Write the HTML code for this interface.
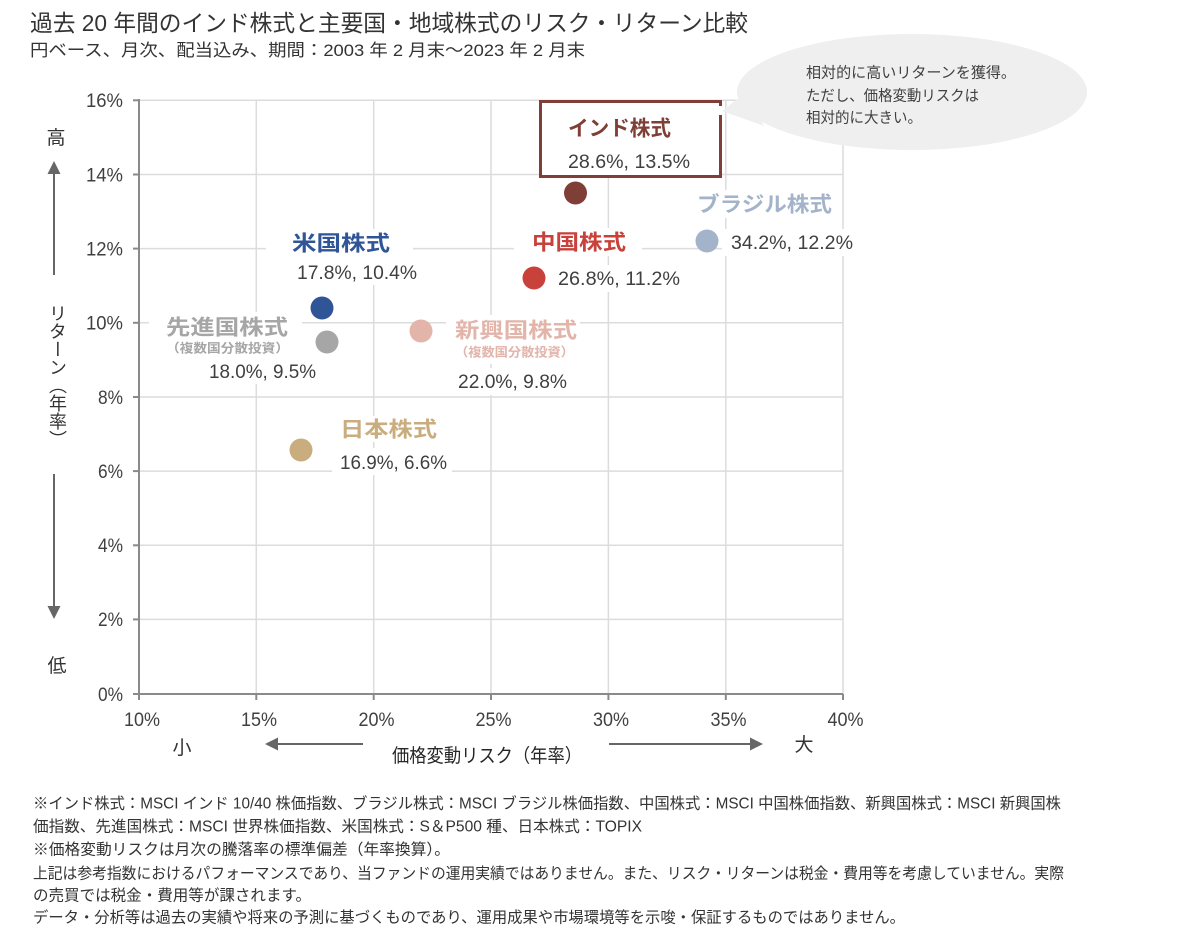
<!DOCTYPE html>
<html><head><meta charset="utf-8">
<style>
html,body{margin:0;padding:0;background:#fff;}
#wrap{position:relative;width:1200px;height:934px;overflow:hidden;background:#fff;}
svg{position:absolute;left:0;top:0;}
text{font-family:"Liberation Sans","Noto Sans CJK JP",sans-serif;}
.vlab{position:absolute;left:47px;top:304px;width:20px;font-family:"Liberation Sans","Noto Sans CJK JP",sans-serif;font-size:18px;line-height:20px;color:#333;writing-mode:vertical-rl;white-space:nowrap;}
</style></head>
<body><div id="wrap">
<svg width="1200" height="934" viewBox="0 0 1200 934" xmlns="http://www.w3.org/2000/svg">
<rect width="1200" height="934" fill="#fff"/>
<!-- title -->
<text x="30" y="31" font-size="23" fill="#333" textLength="718" lengthAdjust="spacingAndGlyphs">過去 20 年間のインド株式と主要国・地域株式のリスク・リターン比較</text>
<text x="30" y="56" font-size="17" fill="#333" textLength="555" lengthAdjust="spacingAndGlyphs">円ベース、月次、配当込み、期間：2003 年 2 月末～2023 年 2 月末</text>

<!-- gridlines -->
<g stroke="#dcdcdc" stroke-width="1.5">
<line x1="139" y1="100.3" x2="843" y2="100.3"/>
<line x1="139" y1="174.5" x2="843" y2="174.5"/>
<line x1="139" y1="248.6" x2="843" y2="248.6"/>
<line x1="139" y1="322.8" x2="843" y2="322.8"/>
<line x1="139" y1="397" x2="843" y2="397"/>
<line x1="139" y1="471.1" x2="843" y2="471.1"/>
<line x1="139" y1="545.3" x2="843" y2="545.3"/>
<line x1="139" y1="619.4" x2="843" y2="619.4"/>
<line x1="256.3" y1="100" x2="256.3" y2="694"/>
<line x1="373.7" y1="100" x2="373.7" y2="694"/>
<line x1="491" y1="100" x2="491" y2="694"/>
<line x1="608.4" y1="100" x2="608.4" y2="694"/>
<line x1="725.8" y1="100" x2="725.8" y2="694"/>
<line x1="843" y1="100" x2="843" y2="694"/>
</g>

<!-- axes -->
<g stroke="#8a8a8a" stroke-width="2">
<line x1="139" y1="99" x2="139" y2="694"/>
<line x1="138" y1="694" x2="843" y2="694"/>
<line x1="133" y1="100.3" x2="139" y2="100.3"/>
<line x1="133" y1="174.5" x2="139" y2="174.5"/>
<line x1="133" y1="248.6" x2="139" y2="248.6"/>
<line x1="133" y1="322.8" x2="139" y2="322.8"/>
<line x1="133" y1="397" x2="139" y2="397"/>
<line x1="133" y1="471.1" x2="139" y2="471.1"/>
<line x1="133" y1="545.3" x2="139" y2="545.3"/>
<line x1="133" y1="619.4" x2="139" y2="619.4"/>
<line x1="133" y1="694" x2="139" y2="694"/>
<line x1="139" y1="694" x2="139" y2="700"/>
<line x1="256.3" y1="694" x2="256.3" y2="700"/>
<line x1="373.7" y1="694" x2="373.7" y2="700"/>
<line x1="491" y1="694" x2="491" y2="700"/>
<line x1="608.4" y1="694" x2="608.4" y2="700"/>
<line x1="725.8" y1="694" x2="725.8" y2="700"/>
<line x1="843" y1="694" x2="843" y2="700"/>
</g>

<!-- y tick labels -->
<g font-size="19" fill="#404040" text-anchor="end">
<text x="123" y="107" textLength="37" lengthAdjust="spacingAndGlyphs">16%</text>
<text x="123" y="181.3" textLength="37" lengthAdjust="spacingAndGlyphs">14%</text>
<text x="123" y="255.4" textLength="37" lengthAdjust="spacingAndGlyphs">12%</text>
<text x="123" y="329.6" textLength="37" lengthAdjust="spacingAndGlyphs">10%</text>
<text x="123" y="403.8" textLength="25" lengthAdjust="spacingAndGlyphs">8%</text>
<text x="123" y="477.9" textLength="25" lengthAdjust="spacingAndGlyphs">6%</text>
<text x="123" y="552.1" textLength="25" lengthAdjust="spacingAndGlyphs">4%</text>
<text x="123" y="626.2" textLength="25" lengthAdjust="spacingAndGlyphs">2%</text>
<text x="123" y="700.8" textLength="25" lengthAdjust="spacingAndGlyphs">0%</text>
</g>
<!-- x tick labels -->
<g font-size="19" fill="#404040" text-anchor="middle">
<text x="142" y="726" textLength="36" lengthAdjust="spacingAndGlyphs">10%</text>
<text x="259" y="726" textLength="36" lengthAdjust="spacingAndGlyphs">15%</text>
<text x="376.5" y="726" textLength="36" lengthAdjust="spacingAndGlyphs">20%</text>
<text x="493.5" y="726" textLength="36" lengthAdjust="spacingAndGlyphs">25%</text>
<text x="611" y="726" textLength="36" lengthAdjust="spacingAndGlyphs">30%</text>
<text x="728.5" y="726" textLength="36" lengthAdjust="spacingAndGlyphs">35%</text>
<text x="845.5" y="726" textLength="36" lengthAdjust="spacingAndGlyphs">40%</text>
</g>

<!-- y axis side labels/arrows -->
<text x="56" y="144" font-size="19" fill="#333" text-anchor="middle">高</text>
<text x="57" y="672" font-size="19" fill="#333" text-anchor="middle">低</text>
<g stroke="#666" stroke-width="2">
<line x1="54" y1="275" x2="54" y2="170"/>
<line x1="54" y1="474" x2="54" y2="610"/>
<line x1="363" y1="744" x2="276" y2="744"/>
<line x1="609" y1="744" x2="752" y2="744"/>
</g>
<g fill="#666">
<polygon points="54,161 47.5,174 60.5,174"/>
<polygon points="54,619 47.5,606 60.5,606"/>
<polygon points="265,744 278,737.5 278,750.5"/>
<polygon points="763,744 750,737.5 750,750.5"/>
</g>
<text x="182" y="754" font-size="19" fill="#333" text-anchor="middle">小</text>
<text x="804" y="751" font-size="19" fill="#333" text-anchor="middle">大</text>
<text x="392" y="762" font-size="19" fill="#262626" textLength="190" lengthAdjust="spacingAndGlyphs">価格変動リスク（年率）</text>

<!-- white label backgrounds -->
<g fill="#fff">
<rect x="690" y="190" width="150" height="28"/>
<rect x="722" y="229" width="136" height="27"/>
<rect x="514" y="228" width="128" height="28"/>
<rect x="552" y="265" width="134" height="27"/>
<rect x="266" y="229" width="147" height="56"/>
<rect x="149" y="312" width="153" height="48"/>
<rect x="200" y="358" width="120" height="26"/>
<rect x="446" y="315" width="134" height="49"/>
<rect x="452" y="368" width="120" height="27"/>
<rect x="332" y="416" width="110" height="26"/>
<rect x="332" y="448" width="120" height="27"/>
</g>

<!-- India box -->
<rect x="540.5" y="101.5" width="180" height="75" fill="#fff" stroke="#7f3f36" stroke-width="3"/>
<rect x="717" y="106" width="8" height="9" fill="#fff"/>

<!-- callout bubble -->
<g fill="#efefef">
<ellipse cx="912" cy="92" rx="175" ry="58"/>
<polygon points="746,92 722,111 764,126"/>
</g>
<g font-size="15" fill="#404040">
<text x="806" y="77.5" textLength="210" lengthAdjust="spacingAndGlyphs">相対的に高いリターンを獲得。</text>
<text x="806" y="100.5" textLength="173" lengthAdjust="spacingAndGlyphs">ただし、価格変動リスクは</text>
<text x="806" y="122.5" textLength="116" lengthAdjust="spacingAndGlyphs">相対的に大きい。</text>
</g>

<!-- dots -->
<circle cx="575.5" cy="193" r="11.5" fill="#7f3f36"/>
<circle cx="707" cy="241" r="11.5" fill="#a3b4ca"/>
<circle cx="534" cy="278" r="11.5" fill="#c8413b"/>
<circle cx="322" cy="308" r="11.5" fill="#2f5597"/>
<circle cx="327" cy="342" r="11.5" fill="#a6a6a6"/>
<circle cx="421" cy="331" r="11.5" fill="#e2b4aa"/>
<circle cx="301" cy="450" r="11.5" fill="#c9ad7e"/>

<!-- data labels -->
<g font-size="21" font-weight="bold">
<text x="568" y="135.6" fill="#7f3f36" textLength="103" lengthAdjust="spacingAndGlyphs">インド株式</text>
<text x="697" y="211.6" fill="#a3b4ca" textLength="135" lengthAdjust="spacingAndGlyphs">ブラジル株式</text>
<text x="532" y="249.6" fill="#c8413b" textLength="94" lengthAdjust="spacingAndGlyphs">中国株式</text>
<text x="292" y="250.6" fill="#2f5597" textLength="98" lengthAdjust="spacingAndGlyphs">米国株式</text>
<text x="166" y="334.6" fill="#a6a6a6" textLength="122" lengthAdjust="spacingAndGlyphs">先進国株式</text>
<text x="455" y="337.6" fill="#e2b4aa" textLength="122" lengthAdjust="spacingAndGlyphs">新興国株式</text>
<text x="340" y="436.6" fill="#c9ad7e" textLength="97" lengthAdjust="spacingAndGlyphs">日本株式</text>
</g>
<g font-size="12.5" font-weight="bold">
<text x="166" y="352.5" fill="#a6a6a6" textLength="123" lengthAdjust="spacingAndGlyphs">（複数国分散投資）</text>
<text x="455" y="356.5" fill="#e2b4aa" textLength="119" lengthAdjust="spacingAndGlyphs">（複数国分散投資）</text>
</g>
<g font-size="19.5" fill="#404040">
<text x="568" y="168" textLength="122" lengthAdjust="spacingAndGlyphs">28.6%, 13.5%</text>
<text x="731" y="249" textLength="122" lengthAdjust="spacingAndGlyphs">34.2%, 12.2%</text>
<text x="558" y="285" textLength="122" lengthAdjust="spacingAndGlyphs">26.8%, 11.2%</text>
<text x="297" y="279" textLength="120" lengthAdjust="spacingAndGlyphs">17.8%, 10.4%</text>
<text x="209" y="378" textLength="107" lengthAdjust="spacingAndGlyphs">18.0%, 9.5%</text>
<text x="458" y="388" textLength="109" lengthAdjust="spacingAndGlyphs">22.0%, 9.8%</text>
<text x="340" y="469" textLength="107" lengthAdjust="spacingAndGlyphs">16.9%, 6.6%</text>
</g>

<!-- footnotes -->
<g font-size="15.5" fill="#333">
<text x="33" y="808.6" textLength="1028" lengthAdjust="spacingAndGlyphs">※インド株式：MSCI インド 10/40 株価指数、ブラジル株式：MSCI ブラジル株価指数、中国株式：MSCI 中国株価指数、新興国株式：MSCI 新興国株</text>
<text x="33" y="831.6" textLength="609" lengthAdjust="spacingAndGlyphs">価指数、先進国株式：MSCI 世界株価指数、米国株式：S＆P500 種、日本株式：TOPIX</text>
<text x="33" y="854.6" textLength="417" lengthAdjust="spacingAndGlyphs">※価格変動リスクは月次の騰落率の標準偏差（年率換算）。</text>
<text x="33" y="878.6" textLength="1031" lengthAdjust="spacingAndGlyphs">上記は参考指数におけるパフォーマンスであり、当ファンドの運用実績ではありません。また、リスク・リターンは税金・費用等を考慮していません。実際</text>
<text x="33" y="900.6" textLength="278" lengthAdjust="spacingAndGlyphs">の売買では税金・費用等が課されます。</text>
<text x="33" y="922.6" textLength="872" lengthAdjust="spacingAndGlyphs">データ・分析等は過去の実績や将来の予測に基づくものであり、運用成果や市場環境等を示唆・保証するものではありません。</text>
</g>
</svg>
<div class="vlab">リターン（年率）</div>
</div></body></html>
